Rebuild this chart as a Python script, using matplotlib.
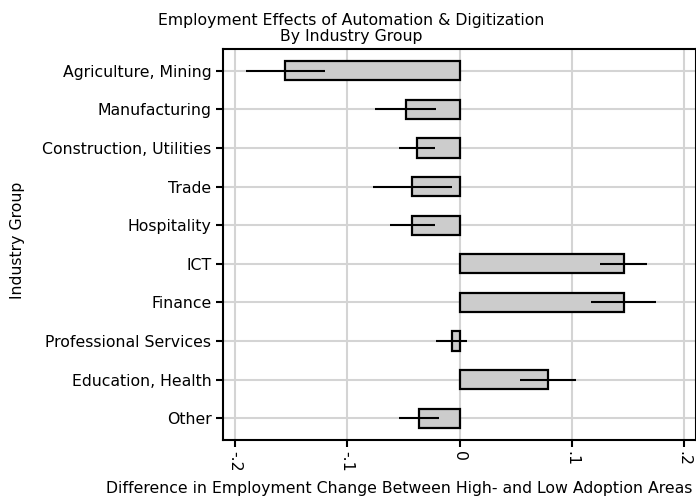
import matplotlib
matplotlib.use("Agg")
import matplotlib.pyplot as plt
import numpy as np

# Industry groups, top to bottom
industries = [
    "Agriculture, Mining",
    "Manufacturing",
    "Construction, Utilities",
    "Trade",
    "Hospitality",
    "ICT",
    "Finance",
    "Professional Services",
    "Education, Health",
    "Other",
]
# Difference in employment change (high- minus low-adoption areas)
effects = [-0.155, -0.048, -0.038, -0.042, -0.042, 0.146, 0.146, -0.007, 0.079, -0.036]
# Half-width of the confidence interval drawn around each estimate
ci_half = [0.035, 0.027, 0.016, 0.035, 0.020, 0.021, 0.029, 0.014, 0.025, 0.018]
xticks = [-0.2, -0.1, 0.0, 0.1, 0.2]
xtick_labels = ["-.2", "-.1", "0", ".1", ".2"]

plt.rcParams["font.family"] = ["DejaVu Sans"]
FS = 11.3

fig = plt.figure(figsize=(6.96, 4.97), dpi=100)
W, H = 696.0, 497.0
ax = fig.add_axes([222.5 / W, 1 - 440 / H, (695.5 - 222.5) / W, (440 - 49) / H])

y = np.arange(len(industries))
ax.barh(y, effects, height=0.5, color="#cccccc", edgecolor="black",
        linewidth=1.6, zorder=3)
ax.errorbar(effects, y, xerr=ci_half, fmt="none", ecolor="black",
            elinewidth=1.5, capsize=0, zorder=4)

ax.set_xlim(-0.211, 0.21)
ax.set_ylim(len(industries) - 1 + 0.56, -0.56)

ax.set_yticks(y)
ax.set_yticklabels(industries, fontsize=FS)
ax.set_xticks(xticks)
ax.set_xticklabels(xtick_labels, fontsize=FS, rotation=-90)

ax.grid(True, color="#d4d4d4", linewidth=1.5, zorder=0)
ax.set_axisbelow(True)
for s in ax.spines.values():
    s.set_linewidth(1.5)
    s.set_color("black")
ax.tick_params(axis="both", direction="out", length=5, width=1.5, colors="black", pad=3)

# Axis titles
fig.text(18 / W, 1 - 240 / H, "Industry Group", rotation=90,
         ha="center", va="center", fontsize=FS)
fig.text(106 / W, 1 - 489 / H,
         "Difference in Employment Change Between High- and Low Adoption Areas",
         ha="left", va="center", fontsize=FS)

# Two-line chart title
fig.text(351 / W, 1 - 20 / H, "Employment Effects of Automation & Digitization",
         ha="center", va="center", fontsize=FS)
fig.text(351 / W, 1 - 37 / H, "By Industry Group",
         ha="center", va="center", fontsize=FS)

fig.savefig("out.png", dpi=100)
